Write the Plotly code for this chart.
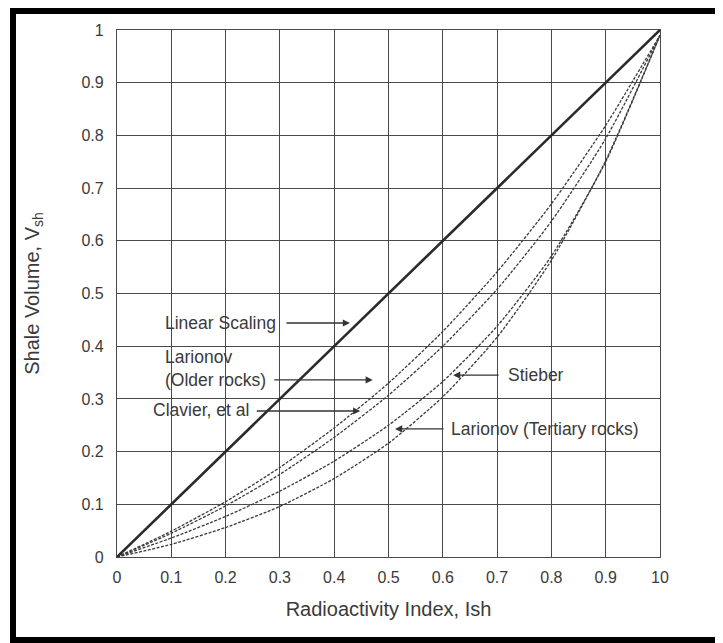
import plotly.graph_objects as go

# Data
ish = [0.0, 0.1, 0.2, 0.3, 0.4, 0.5, 0.6, 0.7, 0.8, 0.9, 1.0]
linear = [0.0, 0.1, 0.2, 0.3, 0.4, 0.5, 0.6, 0.7, 0.8, 0.9, 1.0]
larionov_older = [0.0, 0.049, 0.105, 0.170, 0.245, 0.330, 0.428, 0.541, 0.670, 0.819, 0.99]
clavier = [0.0, 0.045, 0.097, 0.157, 0.227, 0.307, 0.400, 0.508, 0.637, 0.794, 0.99]
stieber = [0.0, 0.036, 0.077, 0.125, 0.182, 0.250, 0.333, 0.438, 0.571, 0.750, 0.99]
larionov_tertiary = [0.0, 0.024, 0.056, 0.096, 0.149, 0.216, 0.304, 0.417, 0.563, 0.752, 0.99]

x_ticks = [0, 0.1, 0.2, 0.3, 0.4, 0.5, 0.6, 0.7, 0.8, 0.9, 1.0]
x_ticktext = ["0", "0.1", "0.2", "0.3", "0.4", "0.5", "0.6", "0.7", "0.8", "0.9", "10"]
y_ticks = [0, 0.1, 0.2, 0.3, 0.4, 0.5, 0.6, 0.7, 0.8, 0.9, 1.0]
y_ticktext = ["0", "0.1", "0.2", "0.3", "0.4", "0.5", "0.6", "0.7", "0.8", "0.9", "1"]

W, H = 723, 643
OFF = 8  # default page body margin
# plot area in page pixels: x 117..660, y 30..557
L, R, T, B = 117 - OFF, W - (660 - OFF), 30 - OFF, H - (557 - OFF)
PW, PH = W - L - R, H - T - B

def px(x):
    return (x - OFF - L) / PW

def py(y):
    return (H - B - (y - OFF)) / PH

fig = go.Figure()
curve_style = dict(color="#3a3a3a", width=1.3, dash="3px,1.5px")
for name, ys in [("Larionov (Older rocks)", larionov_older), ("Clavier, et al", clavier),
                 ("Stieber", stieber), ("Larionov (Tertiary rocks)", larionov_tertiary)]:
    fig.add_trace(go.Scatter(x=ish, y=ys, mode="lines", name=name,
                             line=dict(shape="spline", smoothing=0.6, **curve_style),
                             showlegend=False))
fig.add_trace(go.Scatter(x=ish, y=linear, mode="lines", name="Linear Scaling",
                         line=dict(color="#2a2a2a", width=2.6), showlegend=False))

font = "Liberation Sans, Arial, sans-serif"
txt_col = "#3a3a3a"

fig.update_xaxes(range=[0, 1], tickvals=x_ticks, ticktext=x_ticktext,
                 showgrid=True, gridcolor="#4a4a4a", gridwidth=1.3,
                 showline=True, linecolor="#4a4a4a", linewidth=1.3, mirror=True,
                 zeroline=False, ticks="outside", ticklen=6, tickcolor="rgba(0,0,0,0)",
                 tickfont=dict(family=font, size=16, color=txt_col),
                 title=dict(text="Radioactivity Index, Ish", standoff=16,
                            font=dict(family=font, size=20, color=txt_col)))
fig.update_yaxes(range=[0, 1], tickvals=y_ticks, ticktext=y_ticktext,
                 showgrid=True, gridcolor="#4a4a4a", gridwidth=1.3,
                 showline=True, linecolor="#4a4a4a", linewidth=1.3, mirror=True,
                 zeroline=False, ticks="outside", ticklen=9, tickcolor="rgba(0,0,0,0)",
                 tickfont=dict(family=font, size=16, color=txt_col),
                 title=dict(text="Shale Volume, V<sub>sh</sub>", standoff=36,
                            font=dict(family=font, size=20, color=txt_col)))

afont = dict(family=font, size=17.5, color=txt_col)
# text labels
labels = [
    ("Linear Scaling", 0.085, 0.444),
    ("Larionov<br>(Older rocks)", 0.085, 0.358),
    ("Clavier, et al", 0.063, 0.279),
    ("Stieber", 0.716, 0.345),
    ("Larionov (Tertiary rocks)", 0.611, 0.243),
]
for t, x, y in labels:
    fig.add_annotation(x=x, y=y, text=t, showarrow=False, xanchor="left", yanchor="middle",
                       align="left", font=afont)
# arrows (head at x,y; tail offset ax px)
arrows = [(0.429, 0.444, -65), (0.471, 0.336, -100), (0.448, 0.277, -105),
          (0.619, 0.345, 47), (0.512, 0.243, 50)]
for x, y, ax in arrows:
    fig.add_annotation(x=x, y=y, ax=ax, ay=0, text="", showarrow=True, arrowhead=2,
                       arrowsize=1.1, arrowwidth=1.3, arrowcolor="#333")

# frame of the scanned figure (open at the right edge, as in the scan)
thin = dict(color="#888", width=1)
thick = dict(color="black", width=6)
fig.add_shape(type="line", xref="paper", yref="paper",
              x0=px(2.5), x1=px(740), y0=py(2.5), y1=py(2.5), line=thin)
fig.add_shape(type="line", xref="paper", yref="paper",
              x0=px(2.5), x1=px(2.5), y0=py(2.5), y1=py(660), line=thin)
fig.add_shape(type="line", xref="paper", yref="paper",
              x0=px(10), x1=px(740), y0=py(11), y1=py(11), line=thick)
fig.add_shape(type="line", xref="paper", yref="paper",
              x0=px(13), x1=px(13), y0=py(8), y1=py(660), line=thick)
fig.add_shape(type="line", xref="paper", yref="paper",
              x0=px(10), x1=px(740), y0=py(640), y1=py(640), line=thick)

fig.update_layout(width=W, height=H, margin=dict(l=L, r=R, t=T, b=B),
                  paper_bgcolor="white", plot_bgcolor="white")
fig.write_html("out.html", config={"displayModeBar": False})
